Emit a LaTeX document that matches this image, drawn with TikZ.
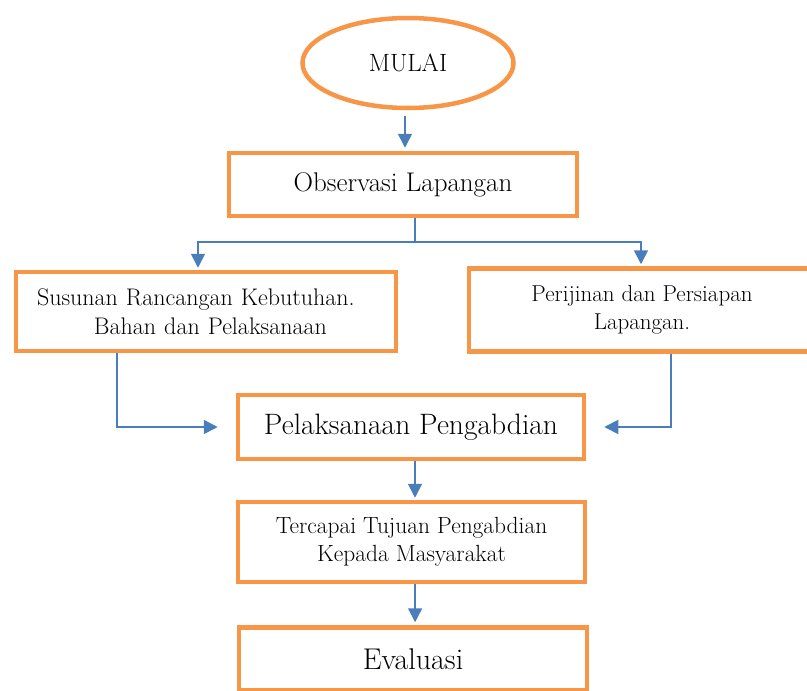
\documentclass[tikz,border=0pt]{standalone}
\usepackage{fontspec}
\usetikzlibrary{arrows.meta,shapes.geometric,calc}
\definecolor{borange}{HTML}{F79646}
\definecolor{lblue}{HTML}{4A7EBB}
\begin{document}
\begin{tikzpicture}[x=1pt,y=-1pt,
  box/.style={draw=borange,line width=4.5pt,rectangle,inner sep=0pt,align=center},
  arr/.style={draw=lblue,line width=1.6pt,-{Triangle[length=14pt,width=14pt]}},
  ln/.style={draw=lblue,line width=1.6pt}]
\useasboundingbox (0,0) rectangle (807,691);
\node[draw=borange,line width=4.5pt,ellipse,minimum width=211pt,minimum height=90pt,inner sep=0pt,font=\fontsize{25}{30}\selectfont] (m) at (408,63) {MULAI};
\node[box,minimum width=348pt,minimum height=63pt,font=\fontsize{27}{32}\selectfont] (obs) at (403,184.5) {Observasi Lapangan};
\node[box,minimum width=380pt,minimum height=79pt,align=left,text width=338pt,font=\fontsize{24}{29}\selectfont] (lb) at (206,311.5) {Susunan Rancangan Kebutuhan.\\\hspace*{57pt}Bahan dan Pelaksanaan};
\node[box,minimum width=346pt,minimum height=83pt,font=\fontsize{23}{28}\selectfont] (rb) at (642,310) {Perijinan dan Persiapan\\Lapangan.};
\node[box,minimum width=346pt,minimum height=64pt,font=\fontsize{29.5}{34}\selectfont] (pel) at (411,427) {Pelaksanaan Pengabdian};
\node[box,minimum width=347pt,minimum height=80pt,font=\fontsize{23.4}{28}\selectfont] (ter) at (411.5,542) {Tercapai Tujuan Pengabdian\\Kepada Masyarakat};
\node[box,minimum width=348pt,minimum height=63pt,font=\fontsize{30}{34}\selectfont] (eva) at (413,659) {Evaluasi};
% connectors
\draw[arr,shorten <=6pt,shorten >=3pt] ([xshift=-3pt]m.south) -- ([xshift=2pt]obs.north);
\coordinate (split) at ($(obs.south)+(12,24)$);
\draw[ln] ([xshift=12pt]obs.south) -- (split);
\draw[arr,shorten >=2pt] (split) -| ([xshift=-8pt]lb.north);
\draw[arr,shorten >=2pt] (split) -| ([xshift=-1pt]rb.north);
\draw[arr] ([xshift=-89pt]lb.south) |- ([xshift=-18pt]pel.west);
\draw[arr] ([xshift=29pt]rb.south) |- ([xshift=18pt]pel.east);
\draw[arr,shorten >=2pt] ([xshift=4pt]pel.south) -- ([xshift=4pt]pel.south |- ter.north);
\draw[arr,shorten >=3pt] ([xshift=3.6pt]ter.south) -- ([xshift=3.6pt]ter.south |- eva.north);
\end{tikzpicture}
\end{document}
